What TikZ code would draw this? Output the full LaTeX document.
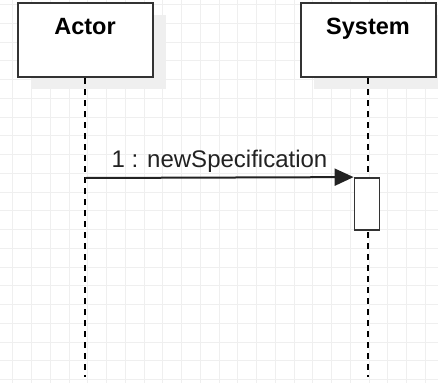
\documentclass[tikz,border=0pt]{standalone}
\usepackage{fontspec}
\setmainfont{Liberation Sans}
\usetikzlibrary{arrows.meta}
\definecolor{gridc}{HTML}{EFEFEF}
\definecolor{shadowc}{HTML}{EFEFEF}
\definecolor{edgec}{HTML}{333333}
\definecolor{textc}{HTML}{222222}
\tikzset{
  headbox/.style={draw=edgec, line width=2pt, fill=white, minimum width=135pt, minimum height=74pt, inner sep=0pt},
  shadowbox/.style={fill=shadowc, draw=none, minimum width=135pt, minimum height=74pt, inner sep=0pt},
  titletext/.style={font=\fontsize{23.5}{28}\selectfont\bfseries, text=black, inner sep=0pt, anchor=base},
  msgtext/.style={font=\fontsize{24}{28}\selectfont, text=textc, inner sep=0pt, anchor=base},
  lifeline/.style={draw=black, line width=2pt, dash pattern=on 6pt off 5pt},
  actbox/.style={draw=edgec, line width=1.8pt, fill=white, minimum width=25pt, minimum height=52pt, inner sep=0pt},
  msgline/.style={draw=textc, line width=2pt, -{Triangle[length=19pt,width=17pt]}}
}
\begin{document}
\begin{tikzpicture}[x=1pt,y=-1pt]
\useasboundingbox (0,0) rectangle (438,383);
\fill[white] (0,0) rectangle (438,383);
% grid
\foreach \i in {0,...,22} {
  \draw[gridc, line width=1pt] ({12.75+18.75*\i},0) -- ({12.75+18.75*\i},383);
}
\foreach \j in {0,...,20} {
  \draw[gridc, line width=1pt] (0,{4.5+18.75*\j}) -- (438,{4.5+18.75*\j});
}
% shadows
\node[shadowbox] (actorsh) at (98,52) {};
\node[shadowbox] (syssh) at (381,52) {};
% lifelines
\coordinate (actorEnd) at (85,377);
\coordinate (sysEnd) at (368,377);
\node[headbox] (actor) at (85,40) {};
\node[headbox] (sys) at (368,40) {};
\draw[lifeline] (actor.south) -- (actorEnd);
\draw[lifeline] (sys.south) -- (sysEnd);
\node[titletext] (actorT) at (85,34) {Actor};
\node[titletext] (sysT) at (368,34) {System};
% activation
\node[actbox] (act) at (367,204) {};
% message
\coordinate (msgStart) at (85,178);
\draw[msgline] (msgStart) -- (act.north west);
\node[msgtext] (msgT) at (219.5,167) {1 : newSpecification};
\end{tikzpicture}
\end{document}
